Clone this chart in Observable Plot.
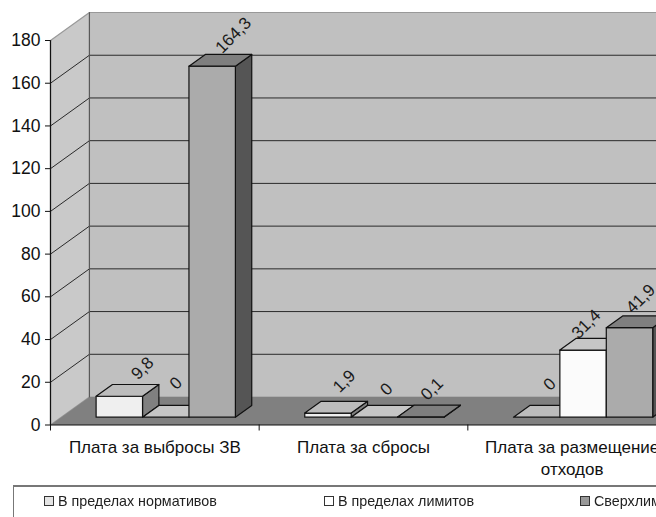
<!DOCTYPE html>
<html>
<head>
<meta charset="utf-8">
<script src="https://cdn.jsdelivr.net/npm/d3@7"></script>
<script src="https://cdn.jsdelivr.net/npm/@observablehq/plot@0.6"></script>
<style>
html,body{margin:0;padding:0;background:#fff;width:656px;height:517px;overflow:hidden;font-family:"Liberation Sans",Arial,sans-serif}
#wrap{filter:blur(0.35px)}
#chart svg{display:block}
#legend{position:relative;height:31px;margin-left:13px;border-top:2px solid #777;border-left:1px solid #777;overflow:hidden;font-size:14.3px;color:#222;white-space:nowrap}
#legend div{position:absolute;top:6px}
#legend i{display:inline-block;width:8px;height:8px;border:1px solid #333;margin-right:4px}
</style>
</head>
<body>
<div id="wrap">
<div id="chart"></div>
<div id="legend"></div>
</div>
<script>
const categories = ["Плата за выбросы ЗВ", "Плата за сбросы", "Плата за размещение\nотходов"];
const seriesNames = ["В пределах нормативов", "В пределах лимитов", "Сверхлимитные"];
const normValues = [9.8, 1.9, 0];
const limitValues = [0, 0, 31.4];
const overValues = [164.3, 0.1, 41.9];
const seriesValues = [normValues, limitValues, overValues];
const yTicks = [0, 20, 40, 60, 80, 100, 120, 140, 160, 180];
const faceColors = [
  {front: "#efefef", top: "#bcbcbc", side: "#808080", swatch: "#e4e4e4"},
  {front: "#fbfbfb", top: "#c6c6c6", side: "#8c8c8c", swatch: "#ffffff"},
  {front: "#ababab", top: "#7f7f7f", side: "#555555", swatch: "#999999"}
];
// per-label nudges in pixels, [category][series]
const labelNudge = [[[15,-22],[2,-28],[13,-25]],[[8,-26],[4,-22],[3,-22]],[[5,-27],[-5,-20],[3,-23]]];

// oblique projection of the 3D box, expressed in scale units
const depthX = 0.1866, depthY = 13.1;
const at = (c, v, z) => ({x: c + z * depthX, y: v + z * depthY});
const face = (pts, fill, o = {}) => Plot.line(pts, {x: "x", y: "y", fill, stroke: "#111", strokeWidth: 1.2, curve: "linear-closed", ...o});

const groupGap = 0.1663, barW = 0.2225, zFront = 0.28, zBack = 0.70;
const yMax = 180;

const marks = [
  face([at(0,0,0), at(0,yMax,0), at(0,yMax,1), at(0,0,1)], "#c9c9c9", {stroke: "#999"}),
  face([at(0,0,1), at(0,yMax,1), at(3,yMax,1), at(3,0,1)], "#c0c0c0", {stroke: "#999"}),
  face([at(0,0,0), at(0,0,1), at(3,0,1), at(3,0,0)], "#808080", {stroke: "none"})
];
for (const t of yTicks.filter(t => t > 0 && t < yMax)) {
  marks.push(Plot.line([at(0,t,0), at(0,t,1), at(3,t,1)], {x: "x", y: "y", stroke: "#2a2a2a", strokeWidth: 1}));
}
marks.push(Plot.line([at(0,0,1), at(0,yMax,1)], {x: "x", y: "y", stroke: "#555", strokeWidth: 1}));
marks.push(Plot.line([at(0,0,0), at(0,yMax,0)], {x: "x", y: "y", stroke: "#111", strokeWidth: 1.2}));
marks.push(Plot.line([at(0,0,0), at(3,0,0)], {x: "x", y: "y", stroke: "#111", strokeWidth: 1.2}));

categories.forEach((cat, c) => {
  seriesValues.forEach((vals, s) => {
    const v = vals[c], x0 = c + groupGap + s * barW, x1 = x0 + barW, col = faceColors[s];
    if (v > 0) {
      marks.push(face([at(x1,0,zFront), at(x1,v,zFront), at(x1,v,zBack), at(x1,0,zBack)], col.side));
      marks.push(face([at(x0,0,zFront), at(x0,v,zFront), at(x1,v,zFront), at(x1,0,zFront)], col.front));
    }
    marks.push(face([at(x0,v,zFront), at(x0,v,zBack), at(x1,v,zBack), at(x1,v,zFront)], col.top));
  });
});

// value labels
categories.forEach((cat, c) => {
  seriesValues.forEach((vals, s) => {
    const v = vals[c], x0 = c + groupGap + s * barW;
    const p = at(x0 + barW / 2, v, (zFront + zBack) / 2);
    const [dx, dy] = labelNudge[c][s];
    marks.push(Plot.text([{...p, label: String(v).replace(".", ",")}], {
      x: "x", y: "y", text: "label", rotate: -45, dx, dy, fontSize: 17, fill: "#1a1a1a", textAnchor: "middle"
    }));
  });
});

// axes
marks.push(Plot.axisY({ticks: yTicks, tickSize: 5, tickPadding: 5, fontSize: 17.5, fill: "#111", stroke: "#111", label: null}));
marks.push(Plot.axisX({ticks: [0, 1, 2], tickSize: 6, tickFormat: () => "", stroke: "#111", label: null}));
marks.push(Plot.text(categories.map((label, c) => ({x: c + 0.5, label})), {
  x: "x", y: () => 0, text: "label", dy: 13, fontSize: 17, lineHeight: 1.27, lineAnchor: "top", textAnchor: "middle", fill: "#111"
}));

const plot = Plot.plot({
  width: 656, height: 485,
  marginLeft: 50, marginRight: -20, marginTop: 40, marginBottom: 60.5,
  style: {fontFamily: '"Liberation Sans", Arial, sans-serif', background: "#fff"},
  x: {type: "linear", domain: [0, 3], axis: null},
  y: {type: "linear", domain: [0, yMax], axis: null},
  marks
});
document.getElementById("chart").append(plot);

const legendLeft = [30, 310, 566];
const lg = document.getElementById("legend");
seriesNames.forEach((n, i) => {
  const d = document.createElement("div");
  d.style.left = legendLeft[i] + "px";
  const sw = document.createElement("i");
  sw.style.background = faceColors[i].swatch;
  d.append(sw, document.createTextNode(n));
  lg.append(d);
});
</script>
</body>
</html>
